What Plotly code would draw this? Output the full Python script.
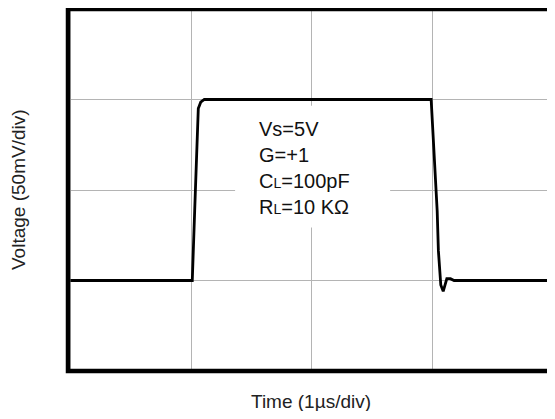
import plotly.graph_objects as go

# time in divisions (1 us/div), voltage in divisions (50 mV/div)
t_div = [0.0, 1.01, 1.03, 1.05, 1.06, 1.08, 1.11, 2.99, 3.01, 3.04, 3.05,
         3.07, 3.09, 3.10, 3.12, 3.15, 3.18, 4.0]
v_div = [1.0, 1.0, 1.77, 2.55, 2.9, 2.97, 3.0, 3.0, 2.55, 1.77, 1.33,
         0.95, 0.88, 0.92, 1.02, 1.02, 1.0, 1.0]

cond_lines = ["Vs=5V", "G=+1",
              "C<span style='font-size:14px'>L</span>=100pF",
              "R<span style='font-size:14px'>L</span>=10 K\u03a9"]

FONT = "Arial, Liberation Sans, sans-serif"

fig = go.Figure()
fig.add_trace(go.Scatter(x=t_div, y=v_div, mode="lines",
                         line=dict(color="black", width=2.8),
                         hoverinfo="skip", showlegend=False))

axis_common = dict(showticklabels=False, ticks="", zeroline=False,
                   showgrid=True, gridcolor="#b4b4b4", gridwidth=1,
                   dtick=1, tick0=0, showline=False, fixedrange=True)
fig.update_xaxes(range=[-0.02, 4], **axis_common)
fig.update_yaxes(range=[0, 4], **axis_common)

# white box behind the test conditions (hides the grid)
fig.add_shape(type="rect", xref="x", yref="y", x0=1.365, x1=2.65,
              y0=1.585, y1=2.93, fillcolor="white", line_width=0,
              layer="between")
# thick frame
fig.add_shape(type="rect", xref="paper", yref="paper", x0=0, x1=1,
              y0=0, y1=1, line=dict(color="black", width=4.5),
              layer="above")

fig.add_annotation(x=1.55, y=2.82, xref="x", yref="y", xanchor="left",
                   yanchor="top", align="left", showarrow=False,
                   text="<br>".join(cond_lines),
                   font=dict(family=FONT, size=20, color="#111"))

fig.add_annotation(x=0, y=0.5, xref="paper", yref="paper", xshift=-50,
                   text="Voltage (50mV/div)", textangle=-90, showarrow=False,
                   xanchor="center", yanchor="middle",
                   font=dict(family=FONT, size=19, color="#222"))
fig.add_annotation(x=0.502, y=0, xref="paper", yref="paper", yshift=-30,
                   text="Time (1\u00b5s/div)", showarrow=False,
                   xanchor="center", yanchor="middle",
                   font=dict(family=FONT, size=19, color="#222"))

# page body has an 8px margin, so the figure is sized to fit the window
fig.update_layout(width=547, height=403,
                  margin=dict(l=60, r=2, t=1, b=40),
                  plot_bgcolor="white", paper_bgcolor="white")

fig.write_html("out.html")
